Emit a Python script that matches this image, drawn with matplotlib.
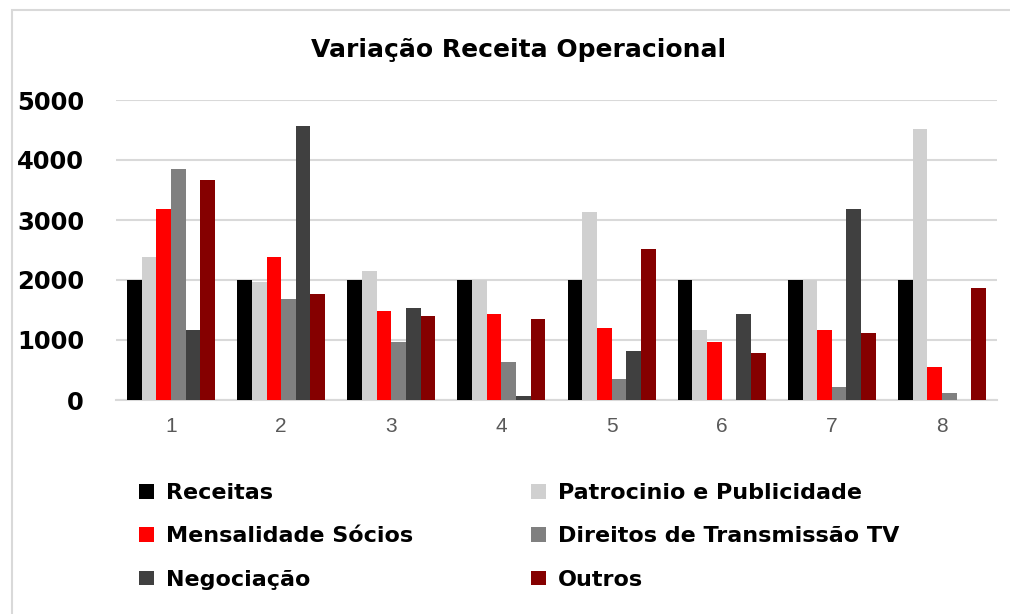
import matplotlib
matplotlib.use("Agg")
import matplotlib.pyplot as plt
import numpy as np
from matplotlib.patches import Rectangle

categories = ["1", "2", "3", "4", "5", "6", "7", "8"]
series_names = ["Receitas", "Patrocinio e Publicidade", "Mensalidade Sócios",
                "Direitos de Transmissão TV", "Negociação", "Outros"]
receitas = [2000, 2000, 2000, 2000, 2000, 2000, 2000, 2000]
patrocinio = [2380, 1960, 2150, 2000, 3140, 1160, 2000, 4510]
mensalidade = [3190, 2390, 1490, 1440, 1200, 970, 1160, 550]
direitos = [3850, 1680, 965, 635, 350, 0, 215, 115]
negociacao = [1160, 4560, 1535, 70, 825, 1440, 3190, 0]
outros = [3665, 1775, 1395, 1350, 2525, 780, 1110, 1870]
yticks = [0, 1000, 2000, 3000, 4000, 5000]

colors = ["#000000", "#d0d0d0", "#ff0000", "#808080", "#404040", "#850000"]
values = [receitas, patrocinio, mensalidade, direitos, negociacao, outros]

W, H = 1010, 614
fig = plt.figure(figsize=(W / 100, H / 100), dpi=100)
fig.patch.set_facecolor("white")

# outer frame
fig.patches.append(Rectangle((12 / W, -0.05), 1.1, 1 - 10 / H + 0.05,
                             transform=fig.transFigure, fill=False,
                             edgecolor="#d9d9d9", linewidth=1.5))

ax = fig.add_axes([116 / W, 1 - 400 / H, (997 - 116) / W, 300 / H])
x = np.arange(1, len(categories) + 1)
bw = 0.133
handles = []
for i, (name, vals, c) in enumerate(zip(series_names, values, colors)):
    h = ax.bar(x + (i - 2.5) * bw, vals, width=bw, color=c, label=name,
               zorder=3, linewidth=0)
    handles.append(h)

ax.set_xlim(0.5, len(categories) + 0.5)
ax.set_ylim(0, 5000)
ax.set_yticks(yticks)
ax.set_yticklabels([str(v) for v in yticks], fontfamily="DejaVu Sans",
                   fontweight="bold", fontsize=17.5, color="black")
ax.set_xticks(x)
ax.set_xticklabels(categories, fontfamily="Liberation Sans", fontsize=15,
                   color="#595959")
ax.tick_params(axis="y", length=0, pad=23)
ax.tick_params(axis="x", length=0, pad=12)
ax.grid(axis="y", color="#d9d9d9", linewidth=1.5, zorder=0)
for s in ["top", "right", "left"]:
    ax.spines[s].set_visible(False)
ax.spines["bottom"].set_color("#d9d9d9")
ax.spines["bottom"].set_linewidth(1.5)

fig.text(519 / W, 1 - 50 / H, "Variação Receita Operacional",
         ha="center", va="center", fontfamily="DejaVu Sans",
         fontweight="bold", fontsize=18)

leg_font = {"family": "DejaVu Sans", "weight": "bold", "size": 16}
col1 = [handles[0], handles[2], handles[4]]
col2 = [handles[1], handles[3], handles[5]]
for hs, xa in [(col1, 128 / W), (col2, 520 / W)]:
    fig.legend(hs, [h.get_label() for h in hs], loc="upper left",
               bbox_to_anchor=(xa, 1 - 472 / H), frameon=False, prop=leg_font,
               handlelength=0.65, handleheight=0.65, handletextpad=0.55,
               labelspacing=1.05, borderpad=0)

fig.savefig("out.png", dpi=100, facecolor="white")
